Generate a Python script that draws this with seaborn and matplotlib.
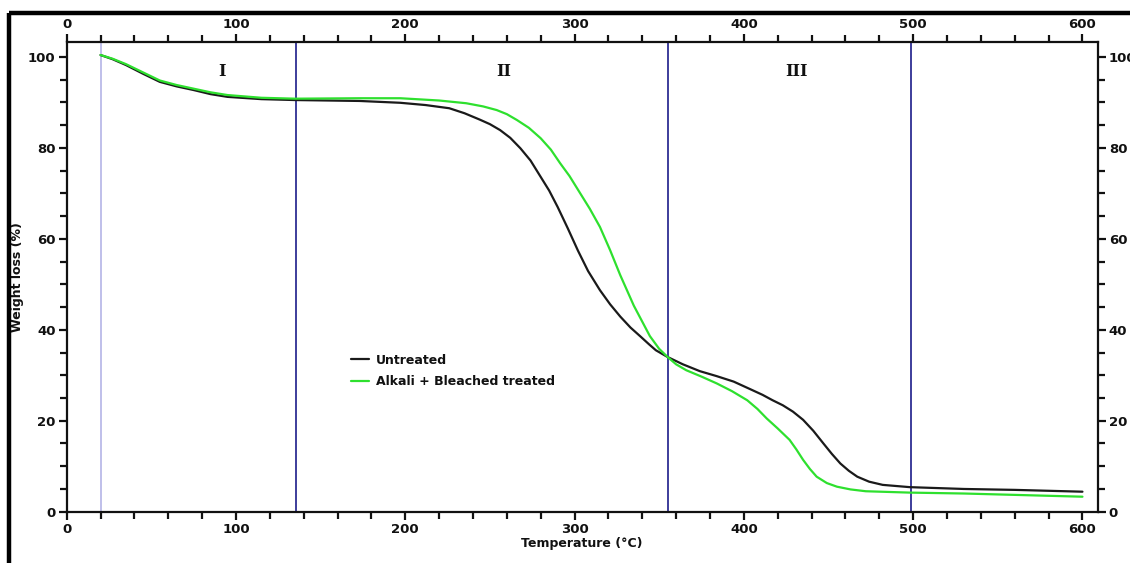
import numpy as np
import pandas as pd
import matplotlib
matplotlib.use("Agg")
import matplotlib.pyplot as plt
from matplotlib.lines import Line2D
from matplotlib.ticker import MultipleLocator
import seaborn as sns

# ---- data ----
untreated_temp = [20, 27, 35, 45, 55, 65, 75, 85, 95, 115, 135, 173, 197, 212, 226,
                  235, 244, 250, 256, 262, 268, 274, 280, 285, 290, 296, 302, 308,
                  315, 321, 327, 333, 339, 344, 348, 355, 364, 374, 384, 394, 404,
                  411, 417, 423, 429, 435, 441, 447, 452, 457, 462, 467, 474, 482,
                  498, 530, 560, 600]
untreated_wt = [100.4, 99.5, 98.2, 96.3, 94.5, 93.5, 92.7, 91.8, 91.2, 90.7, 90.5,
                90.3, 89.9, 89.4, 88.7, 87.6, 86.2, 85.2, 83.9, 82.2, 79.9, 77.2,
                73.6, 70.6, 67.0, 62.3, 57.4, 52.9, 48.7, 45.6, 42.9, 40.5, 38.5,
                36.8, 35.5, 34.0, 32.4, 30.9, 29.8, 28.6, 26.9, 25.7, 24.5, 23.4,
                22.0, 20.2, 17.8, 15.0, 12.7, 10.6, 9.0, 7.7, 6.6, 5.9, 5.4, 5.0,
                4.8, 4.4]

treated_temp = [20, 27, 35, 45, 55, 65, 75, 85, 95, 115, 135, 173, 197, 220, 236,
                246, 254, 260, 266, 273, 280, 286, 291.5, 297, 303, 309, 315, 321,
                327, 335, 344.5, 350, 355, 360, 366, 375, 384, 393, 402, 408, 413.5,
                420, 427, 431, 435, 439, 443, 449, 455, 463, 472, 498, 530, 560, 600]
treated_wt = [100.4, 99.6, 98.4, 96.6, 94.8, 93.8, 93.0, 92.2, 91.6, 91.0, 90.8,
              90.9, 90.9, 90.4, 89.8, 89.1, 88.3, 87.4, 86.1, 84.4, 82.1, 79.6,
              76.6, 73.8, 70.2, 66.6, 62.6, 57.5, 52.0, 45.3, 38.6, 35.8, 34.0,
              32.4, 31.1, 29.7, 28.2, 26.5, 24.5, 22.6, 20.5, 18.3, 15.8, 13.7,
              11.4, 9.4, 7.7, 6.3, 5.5, 4.9, 4.5, 4.2, 4.0, 3.7, 3.3]

series_names = ["Untreated", "Alkali + Bleached treated"]
series_colors = ["#1a1a1a", "#2ee02e"]
stage_bounds = [20, 135.5, 355, 499]
stage_labels = ["I", "II", "III"]
stage_label_x = [92, 258, 431]
x_ticks = [0, 100, 200, 300, 400, 500, 600]
y_ticks = [0, 20, 40, 60, 80, 100]

df = pd.concat([
    pd.DataFrame({"Temperature": untreated_temp, "Weight": untreated_wt, "Sample": series_names[0]}),
    pd.DataFrame({"Temperature": treated_temp, "Weight": treated_wt, "Sample": series_names[1]}),
], ignore_index=True)

sns.set_theme(style="white")
plt.rcParams["font.family"] = ["DejaVu Sans"]
plt.rcParams["font.weight"] = "bold"

fig = plt.figure(figsize=(11.30, 5.63), dpi=100)
ax = fig.add_axes([0.059, 0.0911, 0.9124, 0.8338])

# vertical stage lines
ax.axvline(stage_bounds[0], color="#b4b4e6", lw=1.2, zorder=1)
for xb in stage_bounds[1:]:
    ax.axvline(xb, color="#1c1c8a", lw=1.2, zorder=1)

sns.lineplot(data=df, x="Temperature", y="Weight", hue="Sample",
             palette=dict(zip(series_names, series_colors)), lw=1.6,
             ax=ax, sort=False, estimator=None, zorder=3)

ax.set_xlim(0, 609)
ax.set_ylim(0, 103.2)
ax.set_xticks(x_ticks)
ax.set_yticks(y_ticks)
ax.xaxis.set_minor_locator(MultipleLocator(20))
ax.yaxis.set_minor_locator(MultipleLocator(5))
ax.tick_params(which="both", direction="out", top=True, right=True,
               labeltop=True, labelright=True, bottom=True, left=True,
               colors="#111111", width=1.6)
ax.tick_params(which="major", length=6, labelsize=9.5, pad=2)
ax.tick_params(which="minor", length=5)
for lab in ax.get_xticklabels() + ax.get_yticklabels():
    lab.set_fontweight("bold")
for sp in ax.spines.values():
    sp.set_visible(True)
    sp.set_color("#111111")
    sp.set_linewidth(1.6)

ax.set_xlabel("Temperature (°C)", fontsize=9, fontweight="bold", labelpad=1, color="#111111")
ax.set_ylabel("Weight loss (%)", fontsize=9, fontweight="bold", labelpad=3, color="#111111")

for lab, xl in zip(stage_labels, stage_label_x):
    ax.text(xl, 96.8, lab, ha="center", va="center", fontsize=11.5,
            fontweight="bold", family=["DejaVu Serif"], color="#111111")

leg = ax.legend(loc="upper left", bbox_to_anchor=(0.276, 0.337), frameon=False,
                handlelength=1.4, handletextpad=0.6, labelspacing=0.7,
                borderaxespad=0, borderpad=0, fontsize=9)
for t in leg.get_texts():
    t.set_fontweight("bold")
    t.set_color("#111111")
for h in leg.get_lines():
    h.set_linewidth(1.6)

# outer frame (top and left edges)
fig.add_artist(Line2D([0.008, 1.0], [0.977, 0.977], transform=fig.transFigure,
                      color="black", lw=3.2, solid_capstyle="butt"))
fig.add_artist(Line2D([0.008, 0.008], [0.0, 0.977], transform=fig.transFigure,
                      color="black", lw=3.2, solid_capstyle="butt"))

fig.savefig("out.png", dpi=100)
